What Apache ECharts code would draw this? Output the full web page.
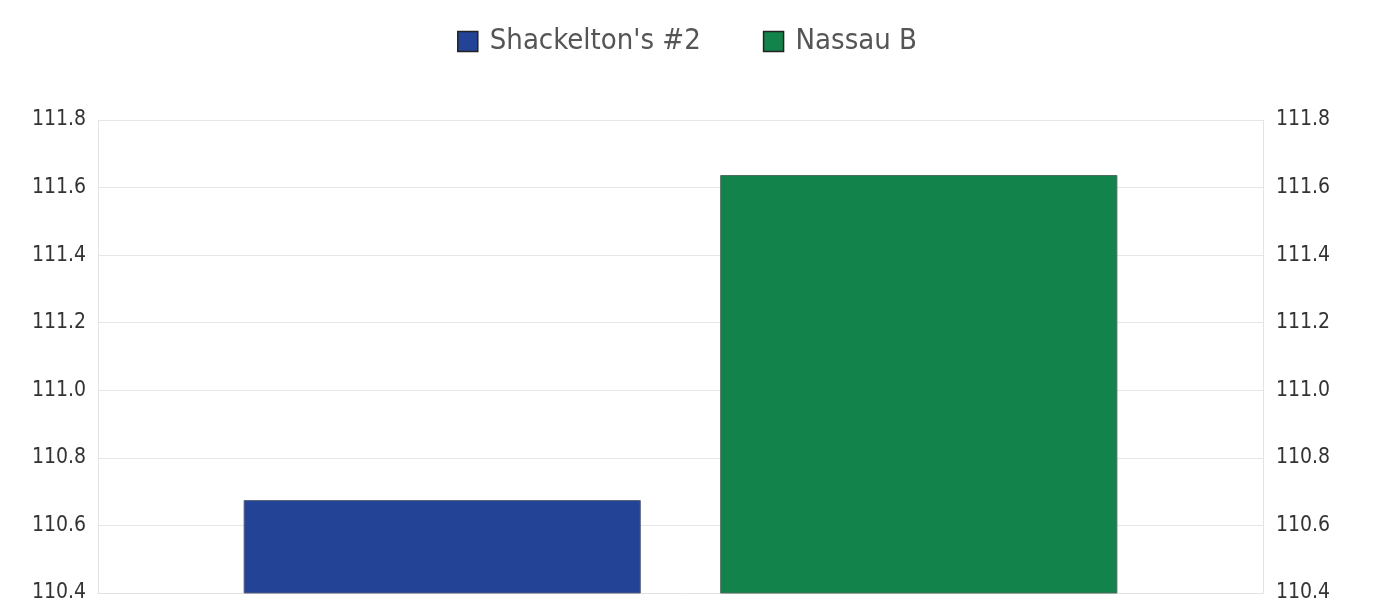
<!DOCTYPE html>
<html>
<head>
<meta charset="utf-8">
<script src="https://cdn.jsdelivr.net/npm/echarts@6/dist/echarts.min.js"></script>
<style>
  html, body { margin:0; padding:0; background:#fff; }
  #chart { width:1374px; height:606px; }
</style>
</head>
<body>
<div id="chart"></div>
<script>
// data
const categories = [''];
const seriesNames = ["Shackelton's #2", 'Nassau B'];
const shackeltonValues = [110.675];
const nassauValues = [111.637];
const colors = ['#234496', '#12834b'];

const FONT = '"Liberation Sans Narrow", "DejaVu Sans Condensed", sans-serif';

const chartE = echarts.init(document.getElementById('chart'));

const yAxisBase = {
    type:'value', min:110.4, max:111.8, interval:0.2,
    axisLine:{ show:true, lineStyle:{ color:'#e3e3e3' } },
    axisTick:{ show:false },
    axisLabel:{ fontSize:21, color:'#333', fontFamily:FONT, formatter: v => v.toFixed(1) }
};

chartE.setOption({
    backgroundColor:'#fff',
    animation:false,
    legend: {
        top:22, left:'center', itemWidth:20, itemHeight:20, itemGap:62,
        textStyle:{ fontSize:29, color:'#555', fontFamily:FONT, padding:[0,0,0,7] },
        data: seriesNames.map((n,i) => ({ name:n, icon:'rect', itemStyle:{ color:colors[i], borderColor:'#222', borderWidth:1.5 } }))
    },
    grid: { left:98, right:111, top:120, bottom:13, containLabel:false },
    xAxis: {
        type:'category', data:categories,
        axisLine:{ show:true, lineStyle:{ color:'#e3e3e3' } },
        axisTick:{ show:false }, axisLabel:{ show:false }
    },
    yAxis: [
        Object.assign({}, yAxisBase, { position:'left', axisLabel:Object.assign({}, yAxisBase.axisLabel, { margin:12 }), splitLine:{ lineStyle:{ color:'#e6e6e6' } } }),
        Object.assign({}, yAxisBase, { position:'right', axisLabel:Object.assign({}, yAxisBase.axisLabel, { margin:13 }), splitLine:{ show:false } })
    ],
    series: [
        { name:seriesNames[0], type:'bar', data:shackeltonValues, barCategoryGap:'25%', barGap:'20%',
          itemStyle:{ color:colors[0], borderColor:'#55607a', borderWidth:1 } },
        { name:seriesNames[1], type:'bar', data:nassauValues, barCategoryGap:'25%', barGap:'20%',
          itemStyle:{ color:colors[1], borderColor:'#4a6a58', borderWidth:1 } }
    ]
}, true);
</script>
</body>
</html>
